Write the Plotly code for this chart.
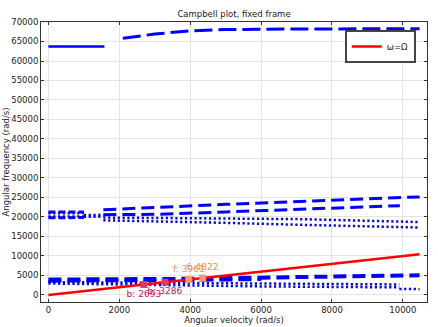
import plotly.graph_objects as go

# ---------------- data ----------------
omega_line_x = [0, 10472]

top_solid_x = [0, 1580]
top_solid_y = [63700, 63700]

top_dash_x = [2100, 3000, 4000, 5000, 6000, 8000, 10472]
top_dash_y = [65850, 66900, 67750, 68050, 68150, 68250, 68300]

# upper group, left part (0..1550)
ul_dash_hi_x = [0, 1000]
ul_dash_hi_y = [21250, 21300]
ul_dash_lo_x = [0, 1000]
ul_dash_lo_y = [19800, 19850]
ul_dot_hi_x = [0, 1000]
ul_dot_hi_y = [20950, 21000]
ul_dot_lo_x = [0, 1000]
ul_dot_lo_y = [20100, 20150]
ul_mid_dot_x = [1000, 1550]
ul_mid_dot_y = [20500, 20550]
ul_mid_dot2_x = [1000, 1550]
ul_mid_dot2_y = [20050, 20100]

# upper group, right part (1550..10472)
u_dash_top_x = [1550, 3155, 5000, 7100, 10472]
u_dash_top_y = [21850, 22550, 23250, 24000, 25150]
u_dash_mid_x = [1550, 3155, 5000, 7100, 9915]
u_dash_mid_y = [20600, 20700, 21300, 22050, 22900]
u_dot_hi_x = [1550, 3155, 5000, 7100, 10472]
u_dot_hi_y = [19850, 19750, 19650, 19450, 18700]
u_dot_lo_x = [1550, 3155, 5000, 7100, 10472]
u_dot_lo_y = [19150, 18900, 18500, 18000, 17300]

# lower group
l_dash_x = [0, 2000, 4000, 6000, 8000, 10472]
l_dash_y = [3950, 3950, 4150, 4450, 4750, 5050]
l_dash2_x = [0, 2000, 4000, 6000]
l_dash2_y = [3550, 3600, 3750, 3950]
l_dot_a_x = [0, 3000, 6000, 9900]
l_dot_a_y = [3300, 3100, 2900, 2700]
l_dot_b_x = [0, 3000, 6000, 9900]
l_dot_b_y = [2950, 2500, 2200, 1950]
l_dot_c_x = [9900, 10472]
l_dot_c_y = [1550, 1500]

# critical speeds
crit_b_x = [2693, 3286]
crit_b_labels = ["b: 2693", "b: 3286"]
crit_f_x = [3961, 4350]
crit_f_labels = ["f: 3961", "f: 4822"]

x_ticks = [0, 2000, 4000, 6000, 8000, 10000]
x_tick_text = [str(v) for v in x_ticks]
y_ticks = list(range(0, 70001, 5000))
y_tick_text = [str(v) for v in y_ticks]

BLUE = "#0000ff"
DASH = "13px,6px"
DOT = "2.2px,2.6px"

fig = go.Figure()

def blue(x, y, style, w):
    fig.add_trace(go.Scatter(x=x, y=y, mode="lines", showlegend=False,
                             hoverinfo="skip",
                             line=dict(color=BLUE, width=w, dash=style)))

blue(top_solid_x, top_solid_y, "solid", 2.5)
blue(top_dash_x, top_dash_y, "18px,6px", 3)

for xs, ys in [(ul_dash_hi_x, ul_dash_hi_y), (ul_dash_lo_x, ul_dash_lo_y)]:
    blue(xs, ys, "7px,3px", 3)
for xs, ys in [(ul_dot_hi_x, ul_dot_hi_y), (ul_dot_lo_x, ul_dot_lo_y),
               (ul_mid_dot_x, ul_mid_dot_y), (ul_mid_dot2_x, ul_mid_dot2_y)]:
    blue(xs, ys, DOT, 2.5)

blue(u_dash_top_x, u_dash_top_y, DASH, 3)
blue(u_dash_mid_x, u_dash_mid_y, DASH, 3)
blue(u_dot_hi_x, u_dot_hi_y, DOT, 2.5)
blue(u_dot_lo_x, u_dot_lo_y, DOT, 2.5)

blue(l_dash_x, l_dash_y, DASH, 4)
blue(l_dash2_x, l_dash2_y, DASH, 3)
blue(l_dot_a_x, l_dot_a_y, DOT, 2.5)
blue(l_dot_b_x, l_dot_b_y, DOT, 2.5)
blue(l_dot_c_x, l_dot_c_y, DOT, 2.5)

fig.add_trace(go.Scatter(x=omega_line_x, y=omega_line_x, mode="lines",
                         name="ω=Ω", line=dict(color="#ff0000", width=2.5)))

fig.add_trace(go.Scatter(x=crit_b_x, y=crit_b_x, mode="markers+text",
                         text=crit_b_labels, textposition="bottom center",
                         textfont=dict(color="#c2185b", size=9, family="DejaVu Sans"),
                         marker=dict(symbol="square", size=7, color="#d0406a"),
                         showlegend=False, hoverinfo="skip"))
fig.add_trace(go.Scatter(x=crit_f_x, y=crit_f_x, mode="markers+text",
                         text=crit_f_labels, textposition="top center",
                         textfont=dict(color="#ff8c42", size=9, family="DejaVu Sans"),
                         marker=dict(symbol="square", size=7, color="#ff9960"),
                         showlegend=False, hoverinfo="skip"))

axis_common = dict(showline=True, linecolor="#333333", linewidth=1, mirror="ticks",
                   ticks="inside", ticklen=3, tickcolor="#333333",
                   showgrid=True, gridcolor="#e4e4e4", gridwidth=1,
                   zeroline=False, automargin=False,
                   tickfont=dict(size=8.5, color="#222222"))

fig.update_layout(
    width=438, height=327,
    margin=dict(l=41, r=11, t=22, b=25, autoexpand=False),
    paper_bgcolor="white", plot_bgcolor="white",
    font=dict(family="DejaVu Sans", size=8.5, color="#222222"),
    title=dict(text="Campbell plot, fixed frame", x=0.5, xref="paper",
               y=1 - 14 / 327, yref="container", yanchor="middle",
               font=dict(size=8.5, color="#222222")),
    xaxis=dict(range=[-209, 10681], tickvals=x_ticks, ticktext=x_tick_text,
               title=dict(text="Angular velocity (rad/s)", standoff=0,
                          font=dict(size=8.5)),
               **axis_common),
    yaxis=dict(range=[-1800, 70000], tickvals=y_ticks, ticktext=y_tick_text,
               title=dict(text="Angular frequency (rad/s)", standoff=0,
                          font=dict(size=8.5)),
               **axis_common),
    legend=dict(x=0.971, y=0.971, xanchor="right", yanchor="top",
                bgcolor="white", bordercolor="#444444", borderwidth=2,
                font=dict(size=8.5), itemwidth=30, tracegroupgap=0),
)

fig.write_html("out.html")
